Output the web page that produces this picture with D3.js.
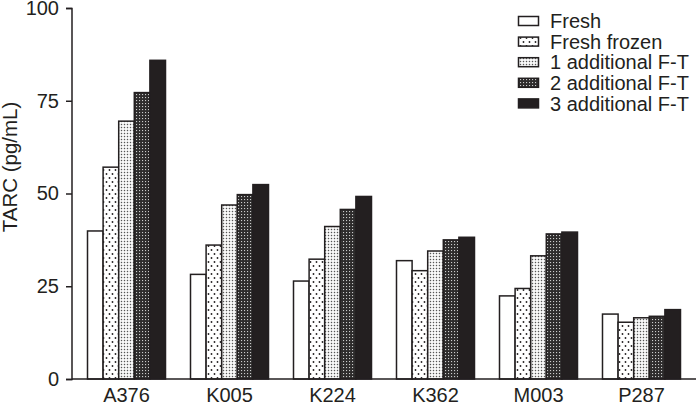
<!DOCTYPE html>
<html>
<head>
<meta charset="utf-8">
<script src="https://cdn.jsdelivr.net/npm/d3@7"></script>
<style>
html,body{margin:0;padding:0;background:#fff;}
svg{display:block;font-family:"Liberation Sans",Arial,sans-serif;}
</style>
</head>
<body>
<svg id="chart" width="696" height="404"></svg>
<script>
const categories = ["A376","K005","K224","K362","M003","P287"];
const seriesNames = ["Fresh","Fresh frozen","1 additional F-T","2 additional F-T","3 additional F-T"];
const fresh       = [39.9, 28.2, 26.4, 31.9, 22.4, 17.5];
const freshFrozen = [57.1, 36.1, 32.3, 29.2, 24.4, 15.3];
const add1        = [69.5, 46.9, 41.1, 34.5, 33.2, 16.5];
const add2        = [77.2, 49.7, 45.7, 37.5, 39.1, 16.9];
const add3        = [85.9, 52.4, 49.2, 38.2, 39.6, 18.7];
const yTicks = [0, 25, 50, 75, 100];
const yLabel = "TARC (pg/mL)";

const seriesValues = [fresh, freshFrozen, add1, add2, add3];
const fills = ["#fff", "url(#pFF)", "url(#p1)", "url(#p2)", "#231f20"];
const ink = "#231f20";
const FONT = '"Liberation Sans",Arial,sans-serif';

const svg = d3.select("#chart");
const defs = svg.append("defs");

// Fresh frozen: white with sparse staggered dots
let p = defs.append("pattern").attr("id","pFF").attr("patternUnits","userSpaceOnUse")
  .attr("width",6).attr("height",8);
p.append("rect").attr("width",6).attr("height",8).attr("fill","#fff");
p.append("circle").attr("cx",1.5).attr("cy",2).attr("r",0.9).attr("fill",ink);
p.append("circle").attr("cx",4.5).attr("cy",6).attr("r",0.9).attr("fill",ink);

// 1 additional: white with dense small dark dots
p = defs.append("pattern").attr("id","p1").attr("patternUnits","userSpaceOnUse")
  .attr("width",3).attr("height",3);
p.append("rect").attr("width",3).attr("height",3).attr("fill","#fff");
p.append("rect").attr("x",0.8).attr("y",0.8).attr("width",1.4).attr("height",1.4).attr("fill","#555");

// 2 additional: dark with white small dots
p = defs.append("pattern").attr("id","p2").attr("patternUnits","userSpaceOnUse")
  .attr("width",3).attr("height",3);
p.append("rect").attr("width",3).attr("height",3).attr("fill","#2e2c2c");
p.append("rect").attr("x",1).attr("y",1).attr("width",1.1).attr("height",1.1).attr("fill","#ccc");

const y = d3.scaleLinear().domain([0,100]).range([379, 8]);
const x0 = d3.scaleBand().domain(categories).range([75, 693])
  .paddingInner(0.2427).paddingOuter(0.1214);
const x1 = d3.scaleBand().domain(d3.range(seriesNames.length)).range([0, x0.bandwidth()]);

// bars
const g = svg.append("g");
categories.forEach((c, ci) => {
  seriesValues.forEach((vals, si) => {
    g.append("rect")
      .attr("x", x0(c) + x1(si))
      .attr("y", y(vals[ci]))
      .attr("width", x1.bandwidth())
      .attr("height", y(0) - y(vals[ci]))
      .attr("fill", fills[si])
      .attr("stroke", ink)
      .attr("stroke-width", 1.5);
  });
});

// y axis
const yAxis = svg.append("g").attr("transform","translate(72,0)")
  .call(d3.axisLeft(y).tickValues(yTicks).tickSize(6).tickPadding(7).tickFormat(d3.format("d")));
yAxis.select(".domain").attr("stroke",ink).attr("stroke-width",1.5).attr("d","M-6,8.5H0V379.5H-6");
yAxis.selectAll(".tick line").attr("stroke",ink).attr("stroke-width",1.5);
yAxis.selectAll(".tick text").attr("fill",ink).attr("font-size",20).attr("font-family",FONT);

// x axis
const xAxis = svg.append("g").attr("transform","translate(0,379)")
  .call(d3.axisBottom(x0).tickSize(0).tickPadding(9));
xAxis.select(".domain").attr("stroke",ink).attr("stroke-width",1.5).attr("d","M72,0H696");
xAxis.selectAll(".tick text").attr("fill",ink).attr("font-size",20).attr("font-family",FONT);

// y label
svg.append("text")
  .attr("transform","translate(17,167) rotate(-90)")
  .attr("text-anchor","middle")
  .attr("font-size",20.5)
  .attr("fill",ink)
  .attr("font-family",FONT)
  .text(yLabel);

// legend
const leg = svg.append("g");
seriesNames.forEach((n, i) => {
  const cy = 21 + i * 20.6;
  leg.append("rect").attr("x",518.5).attr("y",cy-4.5).attr("width",20).attr("height",9)
    .attr("fill",fills[i]).attr("stroke",ink).attr("stroke-width",1.5);
  leg.append("text").attr("x",550).attr("y",cy).attr("dy","0.36em")
    .attr("font-size",20).attr("fill",ink).attr("font-family",FONT).text(n);
});
</script>
</body>
</html>
